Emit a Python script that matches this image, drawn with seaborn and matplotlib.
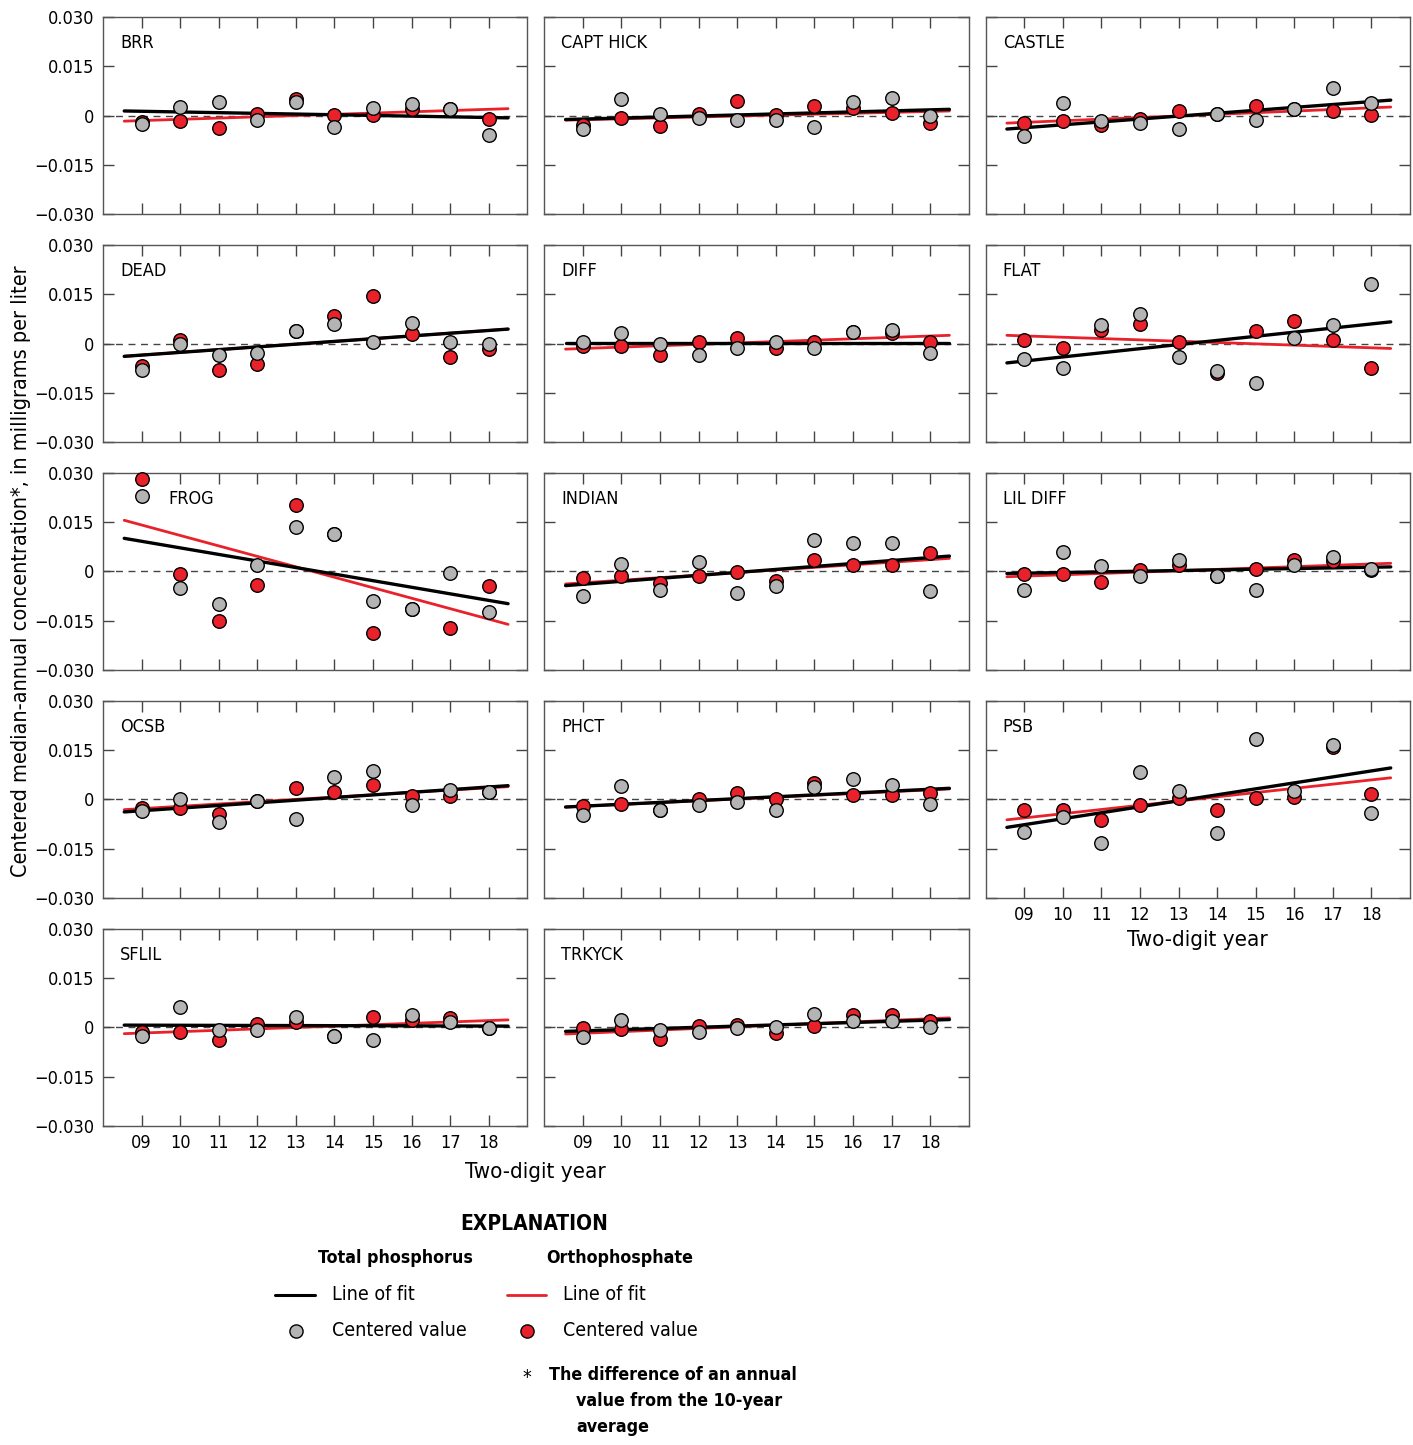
import numpy as np
import pandas as pd
import seaborn as sns
import matplotlib.pyplot as plt
from matplotlib.lines import Line2D

# Site names, one panel each (read left-to-right, top-to-bottom)
sites = ["BRR", "CAPT HICK", "CASTLE", "DEAD", "DIFF", "FLAT", "FROG",
         "INDIAN", "LIL DIFF", "OCSB", "PHCT", "PSB", "SFLIL", "TRKYCK"]
years = [9, 10, 11, 12, 13, 14, 15, 16, 17, 18]
year_labels = ["09", "10", "11", "12", "13", "14", "15", "16", "17", "18"]

# Total phosphorus, centered median-annual concentration (mg/L), 2009-2018
tp_centered = [
    [-0.0026, 0.0025, 0.0041, -0.0015, 0.0041, -0.0034, 0.0022, 0.0036, 0.0020, -0.0059],
    [-0.0041, 0.0050, 0.0004, -0.0007, -0.0012, -0.0012, -0.0036, 0.0040, 0.0055, -0.0001],
    [-0.0062, 0.0039, -0.0016, -0.0022, -0.0042, 0.0004, -0.0012, 0.0019, 0.0084, 0.0039],
    [-0.0081, -0.0001, -0.0035, -0.0030, 0.0039, 0.0058, 0.0005, 0.0063, 0.0004, -0.0002],
    [0.0005, 0.0031, 0.0000, -0.0035, -0.0014, 0.0006, -0.0014, 0.0036, 0.0041, -0.0029],
    [-0.0046, -0.0075, 0.0057, 0.0091, -0.0041, -0.0084, -0.0121, 0.0018, 0.0057, 0.0180],
    [0.0231, -0.0049, -0.0099, 0.0020, 0.0137, 0.0113, -0.0089, -0.0114, -0.0005, -0.0124],
    [-0.0075, 0.0024, -0.0055, 0.0029, -0.0065, -0.0045, 0.0097, 0.0088, 0.0088, -0.0060],
    [-0.0057, 0.0060, 0.0016, -0.0014, 0.0036, -0.0014, -0.0057, 0.0021, 0.0045, 0.0007],
    [-0.0036, 0.0000, -0.0070, -0.0006, -0.0060, 0.0068, 0.0088, -0.0016, 0.0030, 0.0024],
    [-0.0048, 0.0040, -0.0032, -0.0018, -0.0008, -0.0032, 0.0039, 0.0063, 0.0044, -0.0013],
    [-0.0099, -0.0054, -0.0134, 0.0084, 0.0026, -0.0103, 0.0183, 0.0025, 0.0167, -0.0040],
    [-0.0025, 0.0062, -0.0007, -0.0008, 0.0033, -0.0026, -0.0037, 0.0039, 0.0017, -0.0002],
    [-0.0028, 0.0022, -0.0007, -0.0015, -0.0003, 0.0002, 0.0041, 0.0021, 0.0021, 0.0002],
]

# Orthophosphate, centered median-annual concentration (mg/L), 2009-2018
op_centered = [
    [-0.0019, -0.0018, -0.0039, 0.0004, 0.0051, 0.0002, 0.0001, 0.0020, 0.0020, -0.0009],
    [-0.0029, -0.0006, -0.0031, 0.0006, 0.0044, 0.0002, 0.0029, 0.0024, 0.0008, -0.0023],
    [-0.0024, -0.0016, -0.0028, -0.0009, 0.0014, 0.0004, 0.0028, 0.0021, 0.0013, 0.0003],
    [-0.0069, 0.0010, -0.0080, -0.0061, 0.0039, 0.0085, 0.0144, 0.0028, -0.0041, -0.0018],
    [-0.0009, -0.0007, -0.0035, 0.0005, 0.0016, -0.0015, 0.0006, 0.0035, 0.0033, 0.0005],
    [0.0012, -0.0013, 0.0040, 0.0060, 0.0006, -0.0089, 0.0037, 0.0069, 0.0011, -0.0076],
    [0.0282, -0.0007, -0.0152, -0.0040, 0.0203, 0.0113, -0.0186, -0.0114, -0.0172, -0.0045],
    [-0.0019, -0.0014, -0.0034, -0.0014, -0.0003, -0.0029, 0.0036, 0.0021, 0.0021, 0.0055],
    [-0.0007, -0.0007, -0.0031, 0.0005, 0.0019, -0.0014, 0.0008, 0.0034, 0.0033, 0.0006],
    [-0.0026, -0.0026, -0.0044, -0.0006, 0.0034, 0.0024, 0.0043, 0.0012, 0.0011, 0.0024],
    [-0.0021, -0.0015, -0.0032, 0.0000, 0.0021, 0.0002, 0.0051, 0.0015, 0.0015, 0.0020],
    [-0.0032, -0.0031, -0.0062, -0.0017, 0.0003, -0.0032, 0.0004, 0.0007, 0.0160, 0.0018],
    [-0.0013, -0.0014, -0.0038, 0.0010, 0.0018, -0.0026, 0.0031, 0.0024, 0.0029, -0.0002],
    [-0.0003, -0.0005, -0.0035, 0.0003, 0.0008, -0.0018, 0.0004, 0.0037, 0.0037, 0.0019],
]

# Line of fit, value at the start and end of the fitted span
fit_years = [8.55, 18.5]
tp_fit = [
    [0.0014, -0.0007], [-0.0012, 0.0019], [-0.0041, 0.0047], [-0.0039, 0.0044],
    [0.0003, 0.0003], [-0.0059, 0.0066], [0.0101, -0.0098], [-0.0043, 0.0047],
    [-0.0006, 0.0014], [-0.0038, 0.0042], [-0.0023, 0.0034], [-0.0085, 0.0096],
    [0.0007, 0.0004], [-0.0012, 0.0024],
]
op_fit = [
    [-0.0017, 0.0021], [-0.0014, 0.0014], [-0.0023, 0.0026], [-0.0039, 0.0044],
    [-0.0017, 0.0025], [0.0025, -0.0015], [0.0156, -0.0161], [-0.0038, 0.0040],
    [-0.0016, 0.0025], [-0.0031, 0.0039], [-0.0023, 0.0032], [-0.0062, 0.0066],
    [-0.0019, 0.0023], [-0.0020, 0.0029],
]

RED = "#E8212A"
GRAY = "#B4B4B4"

# long-form tables for seaborn
pts = pd.DataFrame([(s, y, tp_centered[i][j], op_centered[i][j])
                    for i, s in enumerate(sites) for j, y in enumerate(years)],
                   columns=["site", "year", "tp", "op"])
fits = pd.DataFrame([(s, fy, tp_fit[i][k], op_fit[i][k])
                     for i, s in enumerate(sites) for k, fy in enumerate(fit_years)],
                    columns=["site", "year", "tp", "op"])

sns.set_style("ticks")
plt.rcParams["font.family"] = ["Liberation Sans Narrow", "DejaVu Sans"]
plt.rcParams["font.stretch"] = "condensed"
for key in ("text.color", "axes.labelcolor", "xtick.labelcolor", "ytick.labelcolor"):
    plt.rcParams[key] = "black"

fig, axes = plt.subplots(5, 3, figsize=(14.13, 14.45), dpi=100)
fig.subplots_adjust(left=0.0729, right=0.9979, top=0.9882, bottom=0.2208,
                    wspace=0.040, hspace=0.157)
axes[4, 2].remove()

bottom_panels = {"SFLIL", "TRKYCK", "PSB"}

for i, site in enumerate(sites):
    ax = axes.flat[i]
    p = pts[pts.site == site]
    f = fits[fits.site == site]

    ax.axhline(0, color="#444444", lw=1, ls=(0, (5, 4)), zorder=1)
    sns.lineplot(data=f, x="year", y="op", ax=ax, color=RED, lw=2.0, zorder=2)
    sns.lineplot(data=f, x="year", y="tp", ax=ax, color="black", lw=2.4, zorder=3)
    sns.scatterplot(data=p, x="year", y="op", ax=ax, color=RED, s=95,
                    edgecolor="black", linewidth=1.0, zorder=4, clip_on=False)
    sns.scatterplot(data=p, x="year", y="tp", ax=ax, color=GRAY, s=95,
                    edgecolor="black", linewidth=1.0, zorder=5, clip_on=False)

    ax.set_xlim(8.0, 19.0)
    ax.set_ylim(-0.03, 0.03)
    ax.set_xticks(years)
    ax.set_xticklabels(year_labels)
    ax.set_yticks([0.03, 0.015, 0, -0.015, -0.03])
    ax.set_yticklabels(["0.030", "0.015", "0", "\u22120.015", "\u22120.030"])
    ax.set_xlabel("")
    ax.set_ylabel("")
    ax.tick_params(direction="in", length=8, width=1, color="#444444",
                   top=True, right=True, labelsize=13, pad=6,
                   labelleft=(i % 3 == 0), labelbottom=(site in bottom_panels))
    for sp in ax.spines.values():
        sp.set_color("#555555")
        sp.set_linewidth(1)

    lx = 0.154 if site == "FROG" else 0.04
    ax.text(lx, 0.87, site, transform=ax.transAxes, fontsize=13,
            ha="left", va="center")

axes[3, 2].set_xlabel("Two-digit year", fontsize=16, labelpad=4)
fig.text(0.3786, 0.1889, "Two-digit year", fontsize=16, ha="center", va="center")
fig.text(0.0150, 0.605, "Centered median-annual concentration*, in milligrams per liter",
         rotation=90, fontsize=15.5, ha="center", va="center")

# explanation block
W, H = 1413.0, 1445.0
def fx(px): return px / W
def fy(py): return 1 - py / H

fig.text(fx(534), fy(1224), "EXPLANATION", fontsize=15, fontweight="bold",
         ha="center", va="center")
fig.text(fx(395), fy(1258), "Total phosphorus", fontsize=12.8, fontweight="bold",
         ha="center", va="center")
fig.text(fx(620), fy(1258), "Orthophosphate", fontsize=12.8, fontweight="bold",
         ha="center", va="center")

fig.add_artist(Line2D([fx(275), fx(315)], [fy(1295), fy(1295)], color="black", lw=2.2))
fig.add_artist(Line2D([fx(507), fx(546)], [fy(1295), fy(1295)], color=RED, lw=2.0))
fig.add_artist(Line2D([fx(296)], [fy(1331)], marker="o", ms=9.5, mfc=GRAY, mec="black", mew=1))
fig.add_artist(Line2D([fx(527)], [fy(1331)], marker="o", ms=9.5, mfc=RED, mec="black", mew=1))
for x0 in (332, 563):
    fig.text(fx(x0), fy(1295), "Line of fit", fontsize=14, ha="left", va="center")
    fig.text(fx(x0), fy(1331), "Centered value", fontsize=14, ha="left", va="center")

fig.text(fx(527), fy(1377), "*", fontsize=14, ha="center", va="center")
fig.text(fx(549), fy(1375), "The difference of an annual", fontsize=12.8,
         fontweight="bold", ha="left", va="center")
fig.text(fx(576), fy(1401), "value from the 10-year", fontsize=12.8,
         fontweight="bold", ha="left", va="center")
fig.text(fx(576), fy(1427), "average", fontsize=12.8,
         fontweight="bold", ha="left", va="center")

fig.savefig("out.png", dpi=100)
